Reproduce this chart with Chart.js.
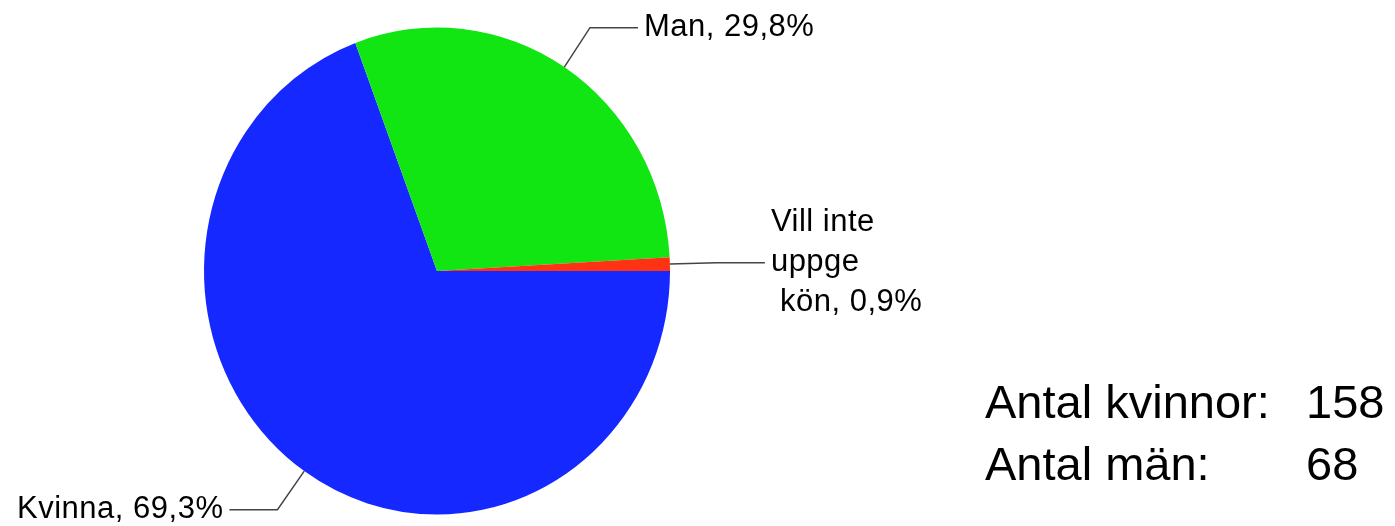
<!DOCTYPE html>
<html>
<head>
<meta charset="utf-8">
<script src="https://cdn.jsdelivr.net/npm/chart.js@4"></script>
<style>
  body { margin: 0; background: #fff; }
  #wrap { position: absolute; left: 0; top: 0; width: 1395px; height: 526px; }
  #stats { position: absolute; left: 985px; top: 371px; font: 47px "Liberation Sans", Arial, sans-serif; line-height: 62px; color: #000; }
  #stats div { position: relative; height: 62px; width: 410px; white-space: nowrap; }
  #stats .num { position: absolute; left: 321px; top: 0; }
</style>
</head>
<body>
<div id="wrap"><canvas id="pie"></canvas></div>
<div id="stats">
  <div><span>Antal kvinnor:</span><span class="num">158</span></div>
  <div><span>Antal män:</span><span class="num">68</span></div>
</div>
<script>
  // Kön - Pie Chart
  const categories = ["Kvinna", "Man", "Vill inte uppge kön"];
  const labelLines = [["Kvinna, 69,3%"], ["Man, 29,8%"], ["Vill inte", "uppge", " kön, 0,9%"]];
  const shares = [69.3, 29.8, 0.9];
  const sliceColors = ["#1428ff", "#12e612", "#ff3214"];

  const stretchY = 243.5 / 233;

  const ellipsePlugin = {
    id: "ellipse",
    beforeDatasetsDraw(chart) {
      const arc = chart.getDatasetMeta(0).data[0];
      const ctx = chart.ctx;
      ctx.save();
      ctx.translate(arc.x, arc.y);
      ctx.scale(1, stretchY);
      ctx.translate(-arc.x, -arc.y);
    },
    afterDatasetsDraw(chart) {
      chart.ctx.restore();
    }
  };

  const leaderPlugin = {
    id: "leaders",
    afterDraw(chart) {
      const ctx = chart.ctx;
      chart.getDatasetMeta(0).data.forEach(function (arc, i) {
        const mid = (arc.startAngle + arc.endAngle) / 2;
        const c = Math.cos(mid), s = Math.sin(mid);
        const r = arc.outerRadius;
        const x0 = arc.x + r * c, y0 = arc.y + r * stretchY * s;
        const x1 = x0 + 47 * c, y1 = y0 + 47 * s;
        const dir = c >= 0 ? 1 : -1;
        const x2 = x1 + 48 * dir;

        ctx.save();
        ctx.strokeStyle = "#444";
        ctx.lineWidth = 1.5;
        ctx.beginPath();
        ctx.moveTo(x0, y0);
        ctx.lineTo(x1, y1);
        ctx.lineTo(x2, y1);
        ctx.stroke();

        ctx.fillStyle = "#000";
        ctx.font = '31px "Liberation Sans", Arial, sans-serif';
        ctx.letterSpacing = "0.5px";
        ctx.textBaseline = "alphabetic";
        ctx.textAlign = dir > 0 ? "left" : "right";
        const lines = labelLines[i];
        const first = -Math.floor(lines.length / 2);
        lines.forEach(function (t, k) {
          ctx.fillText(t, x2 + 6 * dir, y1 + 8 + (first + k) * 40);
        });
        ctx.restore();
      });
    }
  };

  new Chart(document.getElementById("pie"), {
    type: "pie",
    data: {
      labels: categories,
      datasets: [{
        data: shares,
        backgroundColor: sliceColors,
        borderWidth: 0,
        clip: false,
      }],
    },
    options: {
      responsive: true,
      maintainAspectRatio: false,
      animation: false,
      rotation: 90,
      layout: { padding: { top: 38, bottom: 22, left: 204, right: 725 } },
      plugins: {
        legend: { display: false },
        tooltip: { enabled: false },
      },
    },
    plugins: [ellipsePlugin, leaderPlugin],
  });
  // Kön - Pie Chart
</script>
</body>
</html>
